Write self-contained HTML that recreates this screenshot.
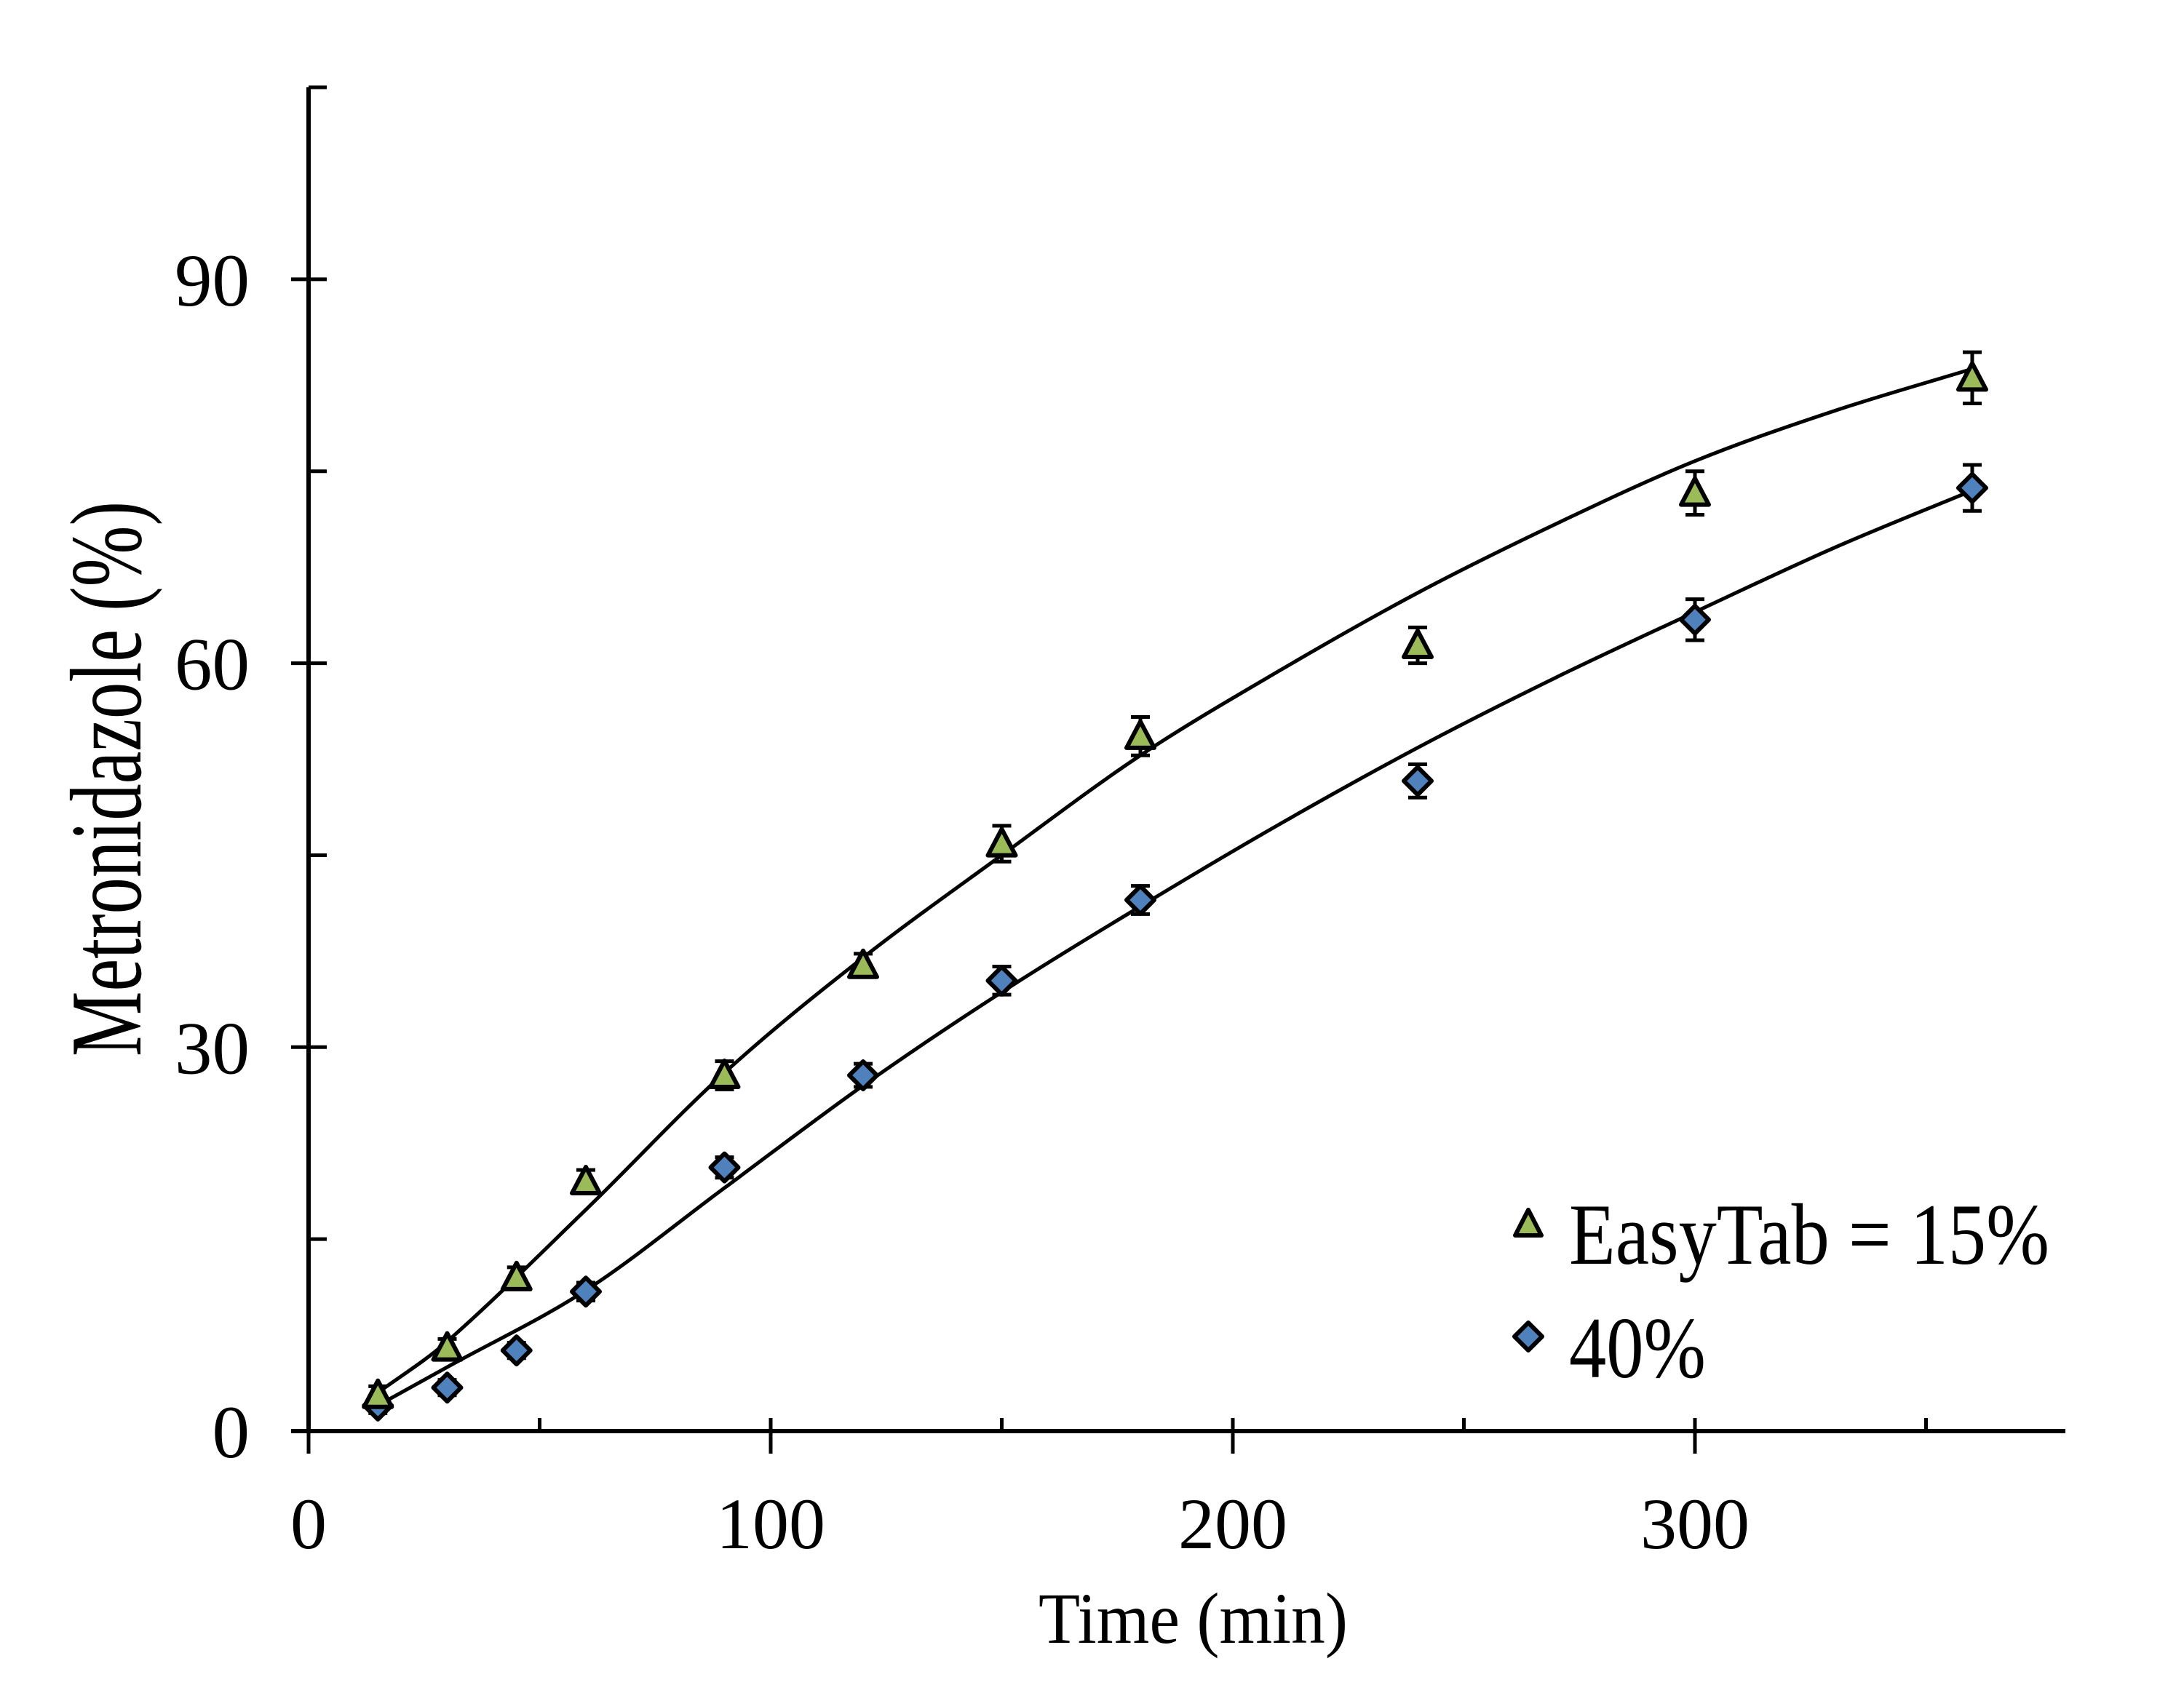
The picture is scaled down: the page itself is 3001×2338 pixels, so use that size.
<!DOCTYPE html>
<html><head><meta charset="utf-8"><style>
html,body{margin:0;padding:0;background:#fff;}
svg{display:block;font-family:"Liberation Serif",serif;}
</style></head><body>
<svg id="chart" width="3001" height="2338" viewBox="0 0 3001 2338" xmlns="http://www.w3.org/2000/svg">
<g id="axes"></g>
<g id="curves"></g>
<g id="marks"></g>
<text x="1427" y="2258" font-size="100" textLength="425" lengthAdjust="spacingAndGlyphs">Time  (min)</text>
<text x="0" y="0" font-size="140" textLength="763" lengthAdjust="spacingAndGlyphs" transform="translate(193,1452) rotate(-90)">Metronidazole  (%)</text>
<g>
 <polygon points="2100,1663 2118,1698 2082,1698" fill="#9bbb59" stroke="#000" stroke-width="6" stroke-linejoin="round"/>
 <text x="2156" y="1737" font-size="120" textLength="660" lengthAdjust="spacingAndGlyphs">EasyTab = 15%</text>
 <polygon points="2100,1818 2119,1837 2100,1856 2081,1837" fill="#4f81bd" stroke="#000" stroke-width="6" stroke-linejoin="round"/>
 <text x="2156" y="1893" font-size="120" textLength="188" lengthAdjust="spacingAndGlyphs">40%</text>
</g>
</svg>
<script>
const times = [15, 30, 45, 60, 90, 120, 150, 180, 240, 300, 360];
const easyTab15 = [2.8, 6.5, 12, 19.5, 27.8, 36.4, 45.9, 54.3, 61.4, 73.3, 82.3];
const easyTab15Err = [0.7, 0.7, 0.8, 0.9, 1.1, 0.9, 1.4, 1.5, 1.4, 1.7, 2.0];
const easyTab40 = [2, 3.4, 6.3, 10.9, 20.6, 27.8, 35.2, 41.5, 50.8, 63.4, 73.7];
const easyTab40Err = [0.6, 0.6, 0.6, 0.7, 0.8, 0.9, 1.1, 1.1, 1.3, 1.6, 1.8];
const fitTimes = [15, 30, 60, 90, 120, 150, 180, 210, 240, 270, 300, 330, 360];
const fit15 = [3, 7, 17.3, 28, 37, 45, 52.8, 59.4, 65.5, 70.9, 75.8, 79.7, 83];
const fit40 = [2, 5, 11, 19, 27, 34.3, 41, 47.4, 53.4, 58.9, 64, 69, 73.5];
const xTicks = [0, 100, 200, 300];
const xMinor = [50, 150, 250, 350];
const yTicks = [0, 30, 60, 90];
const yMinor = [15, 45, 75, 105];

const NS = "http://www.w3.org/2000/svg";
const X = v => 424 + v * 6.35;
const Y = v => 1967 - v * 17.59;
function mk(tag, attrs, parent){const e=document.createElementNS(NS,tag);for(const k in attrs)e.setAttribute(k,attrs[k]);parent.appendChild(e);return e;}
const axes=document.getElementById('axes'), curves=document.getElementById('curves'), marks=document.getElementById('marks');

let e;
e=mk('line',{x1:424,y1:120,x2:424,y2:1967,stroke:'#000','stroke-width':6},axes);


e=mk('line',{x1:400,y1:1967,x2:2838,y2:1967,stroke:'#000','stroke-width':6},axes);


xTicks.forEach(v=>{
  e=mk('line',{x1:X(v),y1:1949,x2:X(v),y2:1998,stroke:'#000','stroke-width':5},axes);
  
  
  e=mk('text',{x:X(v),y:2128,'font-size':100,'text-anchor':'middle'},axes);
  e.textContent=v;
  
  
});
xMinor.forEach(v=>{
  e=mk('line',{x1:X(v),y1:1949,x2:X(v),y2:1967,stroke:'#000','stroke-width':5},axes);
  
  
});
yTicks.forEach(v=>{
  e=mk('line',{x1:400,y1:Y(v),x2:449,y2:Y(v),stroke:'#000','stroke-width':5},axes);
  
  
  e=mk('text',{x:343,y:Y(v)+36,'font-size':103,'text-anchor':'end'},axes);
  e.textContent=v;
  
  
});
yMinor.forEach(v=>{
  e=mk('line',{x1:424,y1:Y(v),x2:449,y2:Y(v),stroke:'#000','stroke-width':5},axes);
  
  
});

function smooth(xs, ys){
  const n=xs.length, m=[];
  for(let i=0;i<n;i++){
    const a=Math.max(0,i-1), b=Math.min(n-1,i+1);
    m.push((ys[b]-ys[a])/(xs[b]-xs[a]));
  }
  let d='M'+X(xs[0])+','+Y(ys[0]);
  for(let i=0;i<n-1;i++){
    const h=xs[i+1]-xs[i];
    d+=' C'+X(xs[i]+h/3)+','+Y(ys[i]+m[i]*h/3)+' '+X(xs[i+1]-h/3)+','+Y(ys[i+1]-m[i+1]*h/3)+' '+X(xs[i+1])+','+Y(ys[i+1]);
  }
  return d;
}
e=mk('path',{d:smooth(fitTimes,fit15),fill:'none',stroke:'#000','stroke-width':5},curves);


e=mk('path',{d:smooth(fitTimes,fit40),fill:'none',stroke:'#000','stroke-width':5},curves);



function errbar(x,v,er){
  const cx=X(x);
  e=mk('path',{d:`M${cx},${Y(v+er)}V${Y(v-er)}M${cx-13},${Y(v+er)}H${cx+13}M${cx-13},${Y(v-er)}H${cx+13}`,stroke:'#000','stroke-width':5,fill:'none'},marks);
  
  
}
times.forEach((t,i)=>{
  errbar(t,easyTab40[i],easyTab40Err[i]);
  const cx=X(t),cy=Y(easyTab40[i]);
  e=mk('polygon',{points:`${cx},${cy-19} ${cx+19},${cy} ${cx},${cy+19} ${cx-19},${cy}`,fill:'#4f81bd',stroke:'#000','stroke-width':6,'stroke-linejoin':'round'},marks);
  
  
});
times.forEach((t,i)=>{
  errbar(t,easyTab15[i],easyTab15Err[i]);
  const cx=X(t),cy=Y(easyTab15[i]);
  e=mk('polygon',{points:`${cx},${cy-20} ${cx+19},${cy+16} ${cx-19},${cy+16}`,fill:'#9bbb59',stroke:'#000','stroke-width':6,'stroke-linejoin':'round'},marks);
  
  
});
</script>
</body></html>
